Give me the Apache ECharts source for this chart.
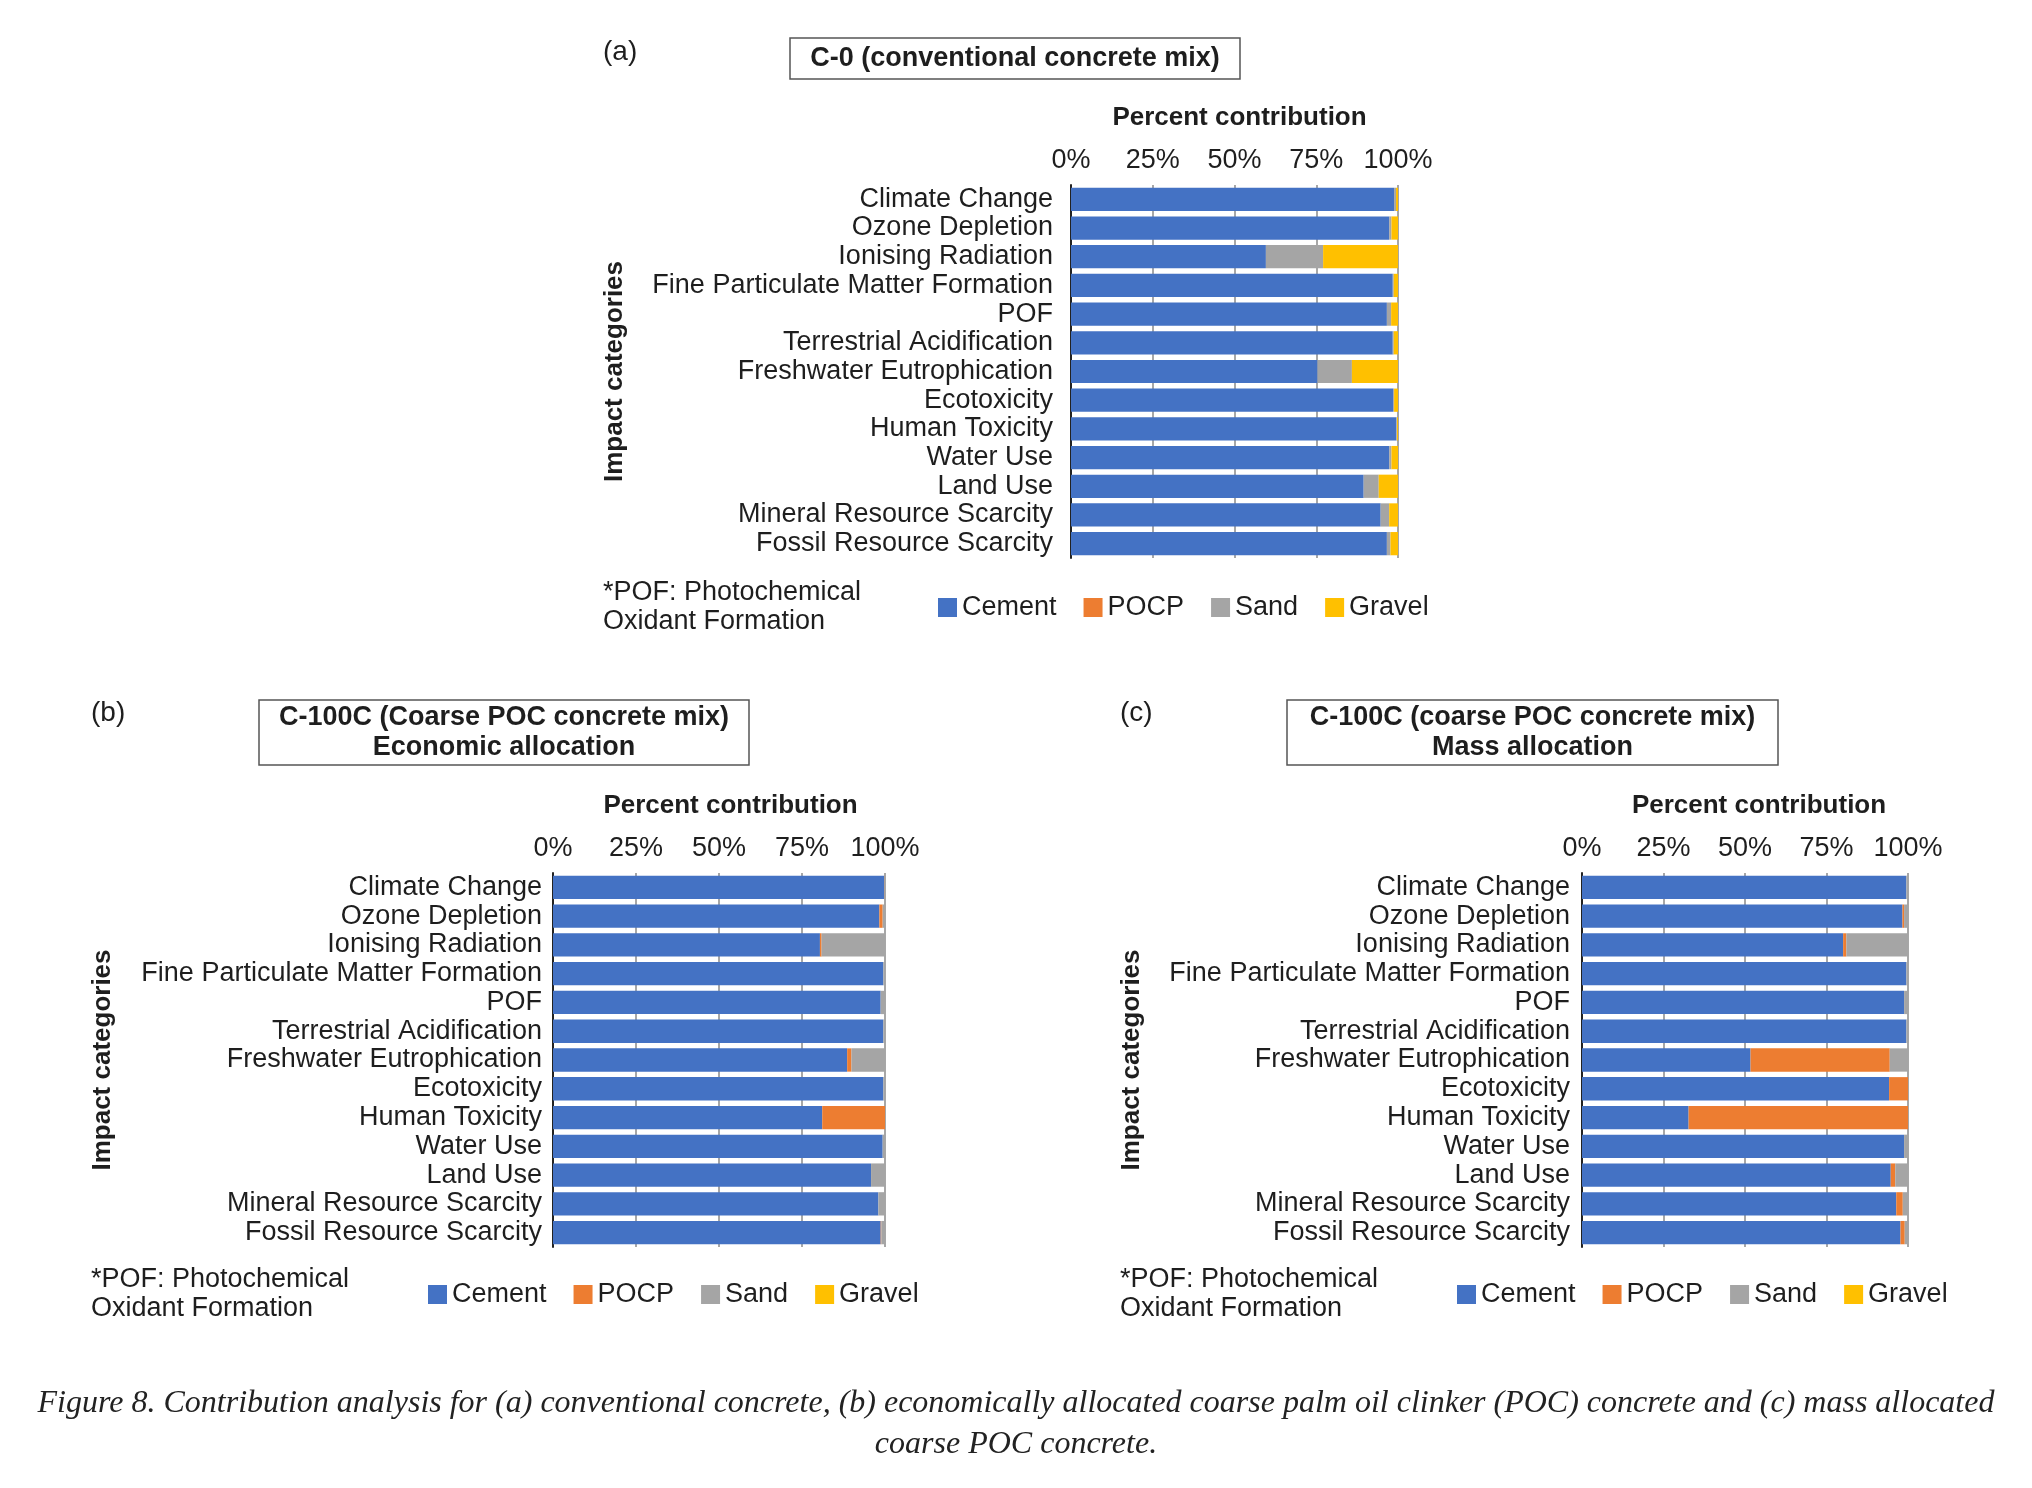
<!DOCTYPE html>
<html><head><meta charset="utf-8">
<script src="https://cdn.jsdelivr.net/npm/echarts@6.0.0/dist/echarts.min.js"></script>
<style>html,body{margin:0;padding:0;background:#fff}#c{width:2032px;height:1488px}</style>
</head><body><div id="c"></div>
<script>
// ---- data ----
const categories = ['Climate Change','Ozone Depletion','Ionising Radiation','Fine Particulate Matter Formation','POF','Terrestrial Acidification','Freshwater Eutrophication','Ecotoxicity','Human Toxicity','Water Use','Land Use','Mineral Resource Scarcity','Fossil Resource Scarcity'];
const seriesNames = ['Cement','POCP','Sand','Gravel'];
const tickValues = [0, 25, 50, 75, 100];

// (a) C-0 conventional concrete mix
const cementA = [98.8, 97.3, 59.6, 98.4, 96.6, 98.4, 75.4, 98.5, 99.5, 97.3, 89.5, 94.7, 96.6];
const pocpA   = [0, 0, 0, 0, 0, 0, 0, 0, 0, 0, 0, 0, 0];
const sandA   = [0.6, 0.7, 17.5, 0.3, 1.3, 0.3, 10.5, 0.3, 0.2, 0.7, 4.6, 2.6, 1.1];
const gravelA = [0.6, 2.0, 22.9, 1.3, 2.1, 1.3, 14.1, 1.2, 0.3, 2.0, 5.9, 2.7, 2.3];

// (b) C-100C economic allocation
const cementB = [99.7, 98.3, 80.4, 99.5, 98.7, 99.5, 88.6, 99.5, 81.1, 99.3, 95.8, 98.0, 98.7];
const pocpB   = [0.1, 1.0, 0.5, 0, 0, 0, 1.3, 0, 18.9, 0, 0, 0, 0.2];
const sandB   = [0.2, 0.7, 19.1, 0.5, 1.3, 0.5, 10.1, 0.5, 0, 0.7, 4.2, 2.0, 1.1];
const gravelB = [0, 0, 0, 0, 0, 0, 0, 0, 0, 0, 0, 0, 0];

// (c) C-100C mass allocation
const cementC = [99.5, 98.3, 80.1, 99.5, 98.8, 99.5, 51.7, 94.2, 32.7, 98.8, 94.7, 96.4, 97.7];
const pocpC   = [0, 0.5, 1.0, 0, 0, 0, 42.7, 5.8, 67.3, 0, 1.4, 2.0, 1.3];
const sandC   = [0.5, 1.2, 18.9, 0.5, 1.2, 0.5, 5.6, 0, 0, 1.2, 3.9, 1.6, 1.0];
const gravelC = [0, 0, 0, 0, 0, 0, 0, 0, 0, 0, 0, 0, 0];

const panelTitles = [
  ['C-0 (conventional concrete mix)'],
  ['C-100C (Coarse POC concrete mix)', 'Economic allocation'],
  ['C-100C (coarse POC concrete mix)', 'Mass allocation']
];
const panelLetters = ['(a)', '(b)', '(c)'];
const noteLines = ['*POF: Photochemical', 'Oxidant Formation'];
const captionLines = [
  'Figure 8. Contribution analysis for (a) conventional concrete, (b) economically allocated coarse palm oil clinker (POC) concrete and (c) mass allocated',
  'coarse POC concrete.'
];

// ---- styles / layout ----
const colors = ['#4472C4', '#ED7D31', '#A5A5A5', '#FFC000'];
const FONT = 'Liberation Sans, Arial, sans-serif';
const TXT = '#1e1e1e';
const panelData = [
  [cementA, pocpA, sandA, gravelA],
  [cementB, pocpB, sandB, gravelB],
  [cementC, pocpC, sandC, gravelC]
];
const layout = [
  {grid:{left:1071, top:185, width:327, height:373}, nameGapY:443, labelMargin:18, namePad:10, letter:[603,54], box:[790,38,450,41], note:[603,607], legend:[933,589]},
  {grid:{left:553, top:873, width:332, height:374}, nameGapY:437, labelMargin:11, namePad:23, letter:[91,715], box:[259,700,490,65], note:[91,1294], legend:[423,1276]},
  {grid:{left:1582, top:873, width:326, height:374}, nameGapY:437, labelMargin:12, namePad:28, letter:[1120,715], box:[1287,700,491,65], note:[1120,1294], legend:[1452,1276]}
];

const grids = [], xAxes = [], yAxes = [], series = [], legends = [], graphics = [];
layout.forEach((L, i) => {
  grids.push(Object.assign({containLabel:false}, L.grid));
  xAxes.push({
    type:'value', gridIndex:i, position:'top', min:tickValues[0], max:tickValues[tickValues.length-1], interval:25,
    axisLine:{show:false}, axisTick:{show:false},
    axisLabel:{formatter:'{value}%', fontFamily:FONT, fontSize:27, color:TXT, margin:11},
    splitLine:{show:true, lineStyle:{color:'#8a8a8a', width:1.5}},
    name:'Percent contribution', nameLocation:'middle', nameGap:54,
    nameTextStyle:{fontFamily:FONT, fontSize:26, fontWeight:'bold', color:TXT, padding:[0,0,0,L.namePad]}
  });
  yAxes.push({
    type:'category', gridIndex:i, inverse:true, data:categories,
    axisLine:{show:true, lineStyle:{color:'#222', width:2}}, axisTick:{show:false},
    axisLabel:{interval:0, fontFamily:FONT, fontSize:27, color:TXT, margin:L.labelMargin},
    splitLine:{show:false},
    name:'Impact categories', nameLocation:'middle', nameRotate:90, nameGap:L.nameGapY,
    nameTextStyle:{fontFamily:FONT, fontSize:26, fontWeight:'bold', color:TXT}
  });
  seriesNames.forEach((nm, k) => {
    series.push({
      type:'bar', name:nm, xAxisIndex:i, yAxisIndex:i, stack:'s'+i,
      data:panelData[i][k], barCategoryGap:'19%', itemStyle:{color:colors[k]}, silent:true
    });
  });
  legends.push({
    left:L.legend[0], top:L.legend[1], orient:'horizontal', itemWidth:19, itemHeight:19, itemGap:27,
    icon:'rect', data:seriesNames, selectedMode:false,
    textStyle:{fontFamily:FONT, fontSize:27, color:TXT}
  });
  graphics.push({type:'text', left:L.letter[0], top:L.letter[1]-16, style:{text:panelLetters[i], font:'28px '+FONT, fill:TXT}});
  const b = L.box;
  graphics.push({type:'rect', shape:{x:b[0], y:b[1], width:b[2], height:b[3]}, style:{fill:'#fff', stroke:'#555', lineWidth:1.5}});
  graphics.push({type:'text', x:b[0]+b[2]/2, y:b[1]+b[3]/2, style:{text:panelTitles[i].join('\n'), font:'bold 27px '+FONT, fill:TXT, align:'center', verticalAlign:'middle', lineHeight:30}});
  graphics.push({type:'text', x:L.note[0], y:L.note[1], style:{text:noteLines.join('\n'), font:'27px '+FONT, fill:TXT, align:'left', verticalAlign:'middle', lineHeight:29}});
});
graphics.push({type:'text', x:1016, y:1424, style:{text:captionLines.join('\n'), font:'italic 32px "Liberation Serif", serif', fill:'#222', align:'center', verticalAlign:'middle', lineHeight:41}});

const chart = echarts.init(document.getElementById('c'), null, {renderer:'canvas'});
chart.setOption({
  animation:false, backgroundColor:'#fff', color:colors,
  grid:grids, xAxis:xAxes, yAxis:yAxes, series:series, legend:legends, graphic:graphics
});
</script></body></html>
